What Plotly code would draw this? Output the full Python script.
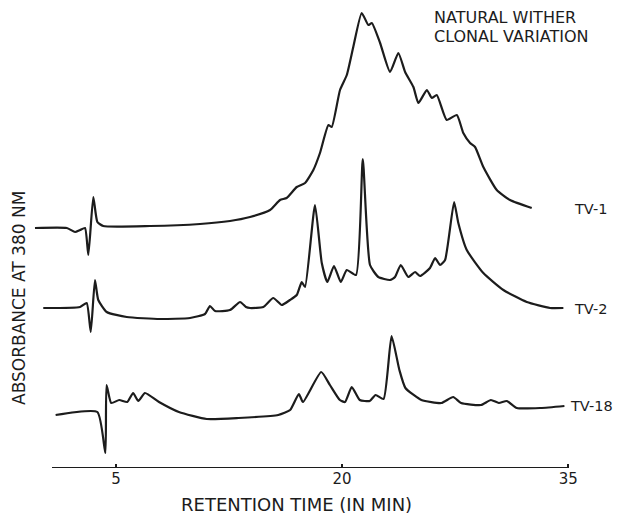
import plotly.graph_objects as go

# Retention time (min) and absorbance (arbitrary units, relative to each trace's baseline)
tv1_time = [-0.38, 1.73, 2.28, 2.61, 2.94, 3.16, 3.49, 3.76, 4.15, 7.25, 10.57, 12.56, 13.89,
            15.22, 15.88, 16.32, 16.99, 17.54, 18.09, 18.53, 19.09, 19.31, 19.86, 20.31, 20.74,
            21.30, 21.74, 21.97, 22.52, 23.18, 23.73, 24.18, 24.73, 25.06, 25.62, 25.95, 26.28,
            26.94, 27.61, 28.04, 28.49, 28.82, 29.37, 30.26, 31.14, 32.58]
tv1_abs = [0.00, 0.00, -0.04, -0.02, 0.00, -0.27, 0.31, 0.06, 0.02, 0.02, 0.04, 0.07, 0.11,
           0.18, 0.28, 0.30, 0.41, 0.45, 0.58, 0.75, 1.03, 1.01, 1.38, 1.53, 1.81,
           2.15, 2.03, 2.05, 1.85, 1.56, 1.75, 1.56, 1.41, 1.25, 1.38, 1.30, 1.33,
           1.08, 1.13, 0.95, 0.85, 0.81, 0.61, 0.38, 0.28, 0.20]

tv2_time = [0.17, 2.61, 3.05, 3.32, 3.60, 3.82, 4.38, 5.71, 7.92, 9.91, 10.90, 11.23, 11.57,
            12.56, 13.23, 13.62, 13.89, 14.77, 15.43, 15.99, 16.54, 16.99, 17.32, 17.54, 18.20,
            18.65, 19.02, 19.46, 19.91, 20.31, 20.92, 21.37, 21.85, 22.40, 23.18, 23.51, 23.89,
            24.39, 24.84, 25.17, 25.83, 26.17, 26.50, 26.83, 27.43, 27.71, 28.27, 29.37, 30.70,
            32.25, 33.80, 34.68]
tv2_abs = [0.00, 0.01, 0.05, -0.24, 0.28, 0.08, -0.04, -0.09, -0.11, -0.10, -0.06, 0.02, -0.03,
           -0.02, 0.06, 0.01, 0.00, 0.01, 0.10, 0.03, 0.08, 0.13, 0.26, 0.21, 1.03,
           0.45, 0.26, 0.42, 0.26, 0.38, 0.33, 1.49, 0.43, 0.31, 0.28, 0.31, 0.43,
           0.31, 0.36, 0.32, 0.40, 0.50, 0.43, 0.48, 1.06, 0.85, 0.58, 0.35, 0.18,
           0.06, 0.00, 0.00]

tv18_time = [0.99, 3.76, 4.29, 4.37, 4.68, 5.21, 5.74, 6.13, 6.48, 6.92, 7.85, 9.17, 11.02,
             13.13, 15.76, 16.55, 17.13, 17.40, 18.61, 19.19, 19.85, 20.19, 20.64, 21.17, 21.83,
             22.22, 22.75, 23.28, 23.80, 24.20, 25.26, 26.58, 27.37, 27.89, 29.21, 29.87, 30.40,
             30.93, 31.59, 33.17, 34.75]
tv18_abs = [0.00, 0.03, -0.38, 0.30, 0.12, 0.15, 0.13, 0.22, 0.14, 0.22, 0.13, 0.03, -0.04,
            -0.03, 0.00, 0.05, 0.21, 0.13, 0.43, 0.30, 0.15, 0.13, 0.28, 0.15, 0.14,
            0.20, 0.16, 0.79, 0.45, 0.27, 0.15, 0.12, 0.18, 0.12, 0.10, 0.15, 0.12,
            0.14, 0.07, 0.07, 0.09]

sample_names = ["TV-1", "TV-2", "TV-18"]
trace_offsets = [2.40, 1.60, 0.53]
x_ticks = [5, 20, 35]
x_tick_labels = ["5", "20", "35"]

FONT = "DejaVu Sans"
INK = "#1c1c1c"

# page body has an 8px margin, so the figure is 8px smaller than the window
W, H = 614, 512
PLOT_H = 460
PLOT_W = 540

fig = go.Figure()
series = [(tv1_time, tv1_abs), (tv2_time, tv2_abs), (tv18_time, tv18_abs)]
for (t, a), name, off in zip(series, sample_names, trace_offsets):
    fig.add_trace(go.Scatter(
        x=t, y=[v + off for v in a], mode="lines", name=name,
        line=dict(color=INK, width=2.2, shape="spline", smoothing=0.5),
        showlegend=False, hoverinfo="skip"))

# time axis baseline
fig.add_shape(type="line", xref="x", yref="y", x0=0.75, x1=35, y0=0, y1=0,
              line=dict(color=INK, width=2))

fig.update_xaxes(range=[-0.71, 35.12], showgrid=False, zeroline=False, showline=False,
                 tickmode="array", tickvals=x_ticks, ticktext=x_tick_labels,
                 ticks="inside", ticklen=4, tickwidth=2, tickcolor=INK,
                 tickfont=dict(family=FONT, size=15, color=INK))
fig.update_yaxes(range=[0, 4.60], visible=False)


def px(xr):
    return (xr - 30) / PLOT_W


def py(yr):
    return (468 - yr) / PLOT_H


# trace labels
label_pos = [(573, 209), (573, 309), (569, 406)]
for name, (xr, yr) in zip(sample_names, label_pos):
    fig.add_annotation(text=name, xref="paper", yref="paper", x=px(xr), y=py(yr),
                       xanchor="left", yanchor="middle", showarrow=False, borderpad=0,
                       font=dict(family=FONT, size=14.5, color=INK))

fig.add_annotation(text="NATURAL WITHER", xref="paper", yref="paper",
                   x=px(432), y=py(18), xanchor="left", yanchor="middle",
                   showarrow=False, font=dict(family=FONT, size=16, color=INK))
fig.add_annotation(text="CLONAL VARIATION", xref="paper", yref="paper",
                   x=px(432), y=py(37), xanchor="left", yanchor="middle",
                   showarrow=False, font=dict(family=FONT, size=16, color=INK))
fig.add_annotation(text="RETENTION TIME (IN MIN)", xref="paper", yref="paper",
                   x=px(296), y=py(504), xanchor="center", yanchor="middle",
                   showarrow=False, font=dict(family=FONT, size=18, color=INK))
fig.add_annotation(text="ABSORBANCE AT 380 NM", xref="paper", yref="paper",
                   x=px(19), y=py(298), xanchor="center", yanchor="middle",
                   textangle=-90, showarrow=False, font=dict(family=FONT, size=17, color=INK))

fig.update_layout(width=W, height=H, margin=dict(l=22, r=W - 22 - PLOT_W, t=0, b=H - PLOT_H),
                  paper_bgcolor="white", plot_bgcolor="white")

fig.write_html("out.html")
